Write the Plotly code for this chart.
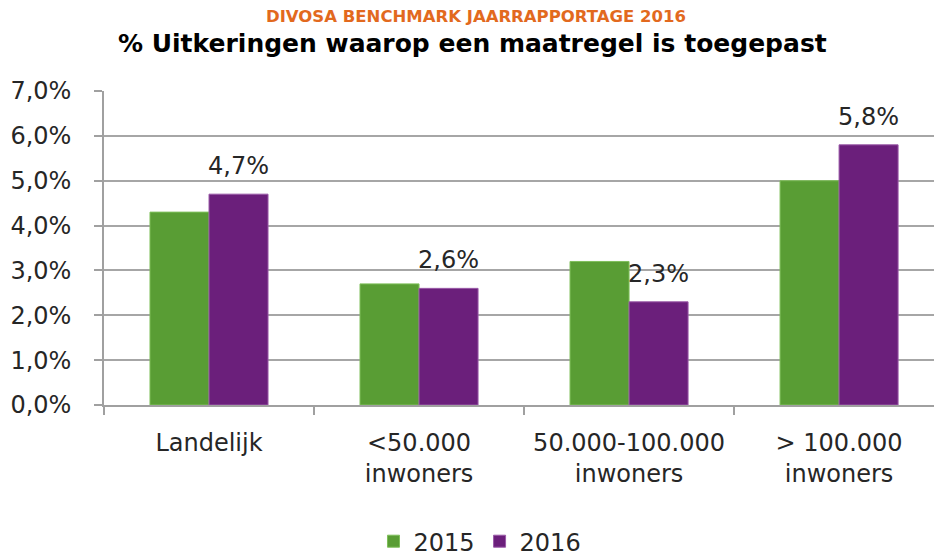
import plotly.graph_objects as go

categories = ["Landelijk", "<50.000<br>inwoners", "50.000-100.000<br>inwoners", "> 100.000<br>inwoners"]
values_2015 = [4.3, 2.7, 3.2, 5.0]
values_2016 = [4.7, 2.6, 2.3, 5.8]
labels_2016 = ["4,7%", "2,6%", "2,3%", "5,8%"]
series_names = ["2015", "2016"]

GREEN = "#599d34"
PURPLE = "#6b1f7b"
FONT = "DejaVu Sans"
TXT = "#262626"
FS = 24

fig = go.Figure()
fig.add_trace(go.Bar(x=categories, y=values_2015, name=series_names[0],
                     marker=dict(color=GREEN, line=dict(color="#7fbf5a", width=1))))
fig.add_trace(go.Bar(x=categories, y=values_2016, name=series_names[1],
                     marker=dict(color=PURPLE, line=dict(color="#9a5aa8", width=1))))

for c, v, t in zip(categories, values_2016, labels_2016):
    fig.add_annotation(x=c, y=v, text=t, showarrow=False, xref="x", yref="y",
                       xshift=29.5, yshift=12, yanchor="bottom",
                       font=dict(family=FONT, size=FS, color=TXT))

fig.add_annotation(xref="paper", yref="paper", x=0.4476, y=1.2357,
                   text="<b>DIVOSA BENCHMARK JAARRAPPORTAGE 2016</b>", showarrow=False,
                   font=dict(family=FONT, size=16.5, color="#e2691e"),
                   xanchor="center", yanchor="middle")
fig.add_annotation(xref="paper", yref="paper", x=0.4434, y=1.1497,
                   text="<b>% Uitkeringen waarop een maatregel is toegepast</b>", showarrow=False,
                   font=dict(family=FONT, size=25, color="#000000"),
                   xanchor="center", yanchor="middle")

fig.update_layout(
    width=934, height=557,
    margin=dict(l=104, r=0, t=91, b=152, autoexpand=False),
    paper_bgcolor="white", plot_bgcolor="white",
    barmode="group", bargap=0.438, bargroupgap=0,
    separators=", ",
    font=dict(family=FONT, size=FS, color=TXT),
    showlegend=True,
    legend=dict(orientation="h", x=0.453, y=-0.435, xanchor="center", yanchor="middle",
                font=dict(family=FONT, size=FS, color=TXT), itemwidth=30,
                traceorder="normal"),
    xaxis=dict(range=[-0.5, 3.452], showgrid=False, showline=True, linecolor="#a0a0a0",
               linewidth=1.5, ticks="outside", tickson="boundaries", ticklen=8,
               tickcolor="#a0a0a0", tickwidth=1.5, ticklabelstandoff=15, automargin=False,
               tickfont=dict(family=FONT, size=FS, color=TXT)),
    yaxis=dict(range=[0, 7], dtick=1, tickformat=".1f", ticksuffix="%",
               showgrid=True, gridcolor="#a6a6a6", gridwidth=1.5,
               showline=True, linecolor="#a0a0a0", linewidth=1.5,
               ticks="outside", ticklen=8, tickcolor="#a0a0a0", tickwidth=1.5,
               ticklabelstandoff=18, zeroline=False, automargin=False,
               tickfont=dict(family=FONT, size=FS, color=TXT)),
)

fig.write_html("out.html", config={"displayModeBar": False},
               post_script="document.body.style.margin='0';document.body.style.overflow='hidden';")
